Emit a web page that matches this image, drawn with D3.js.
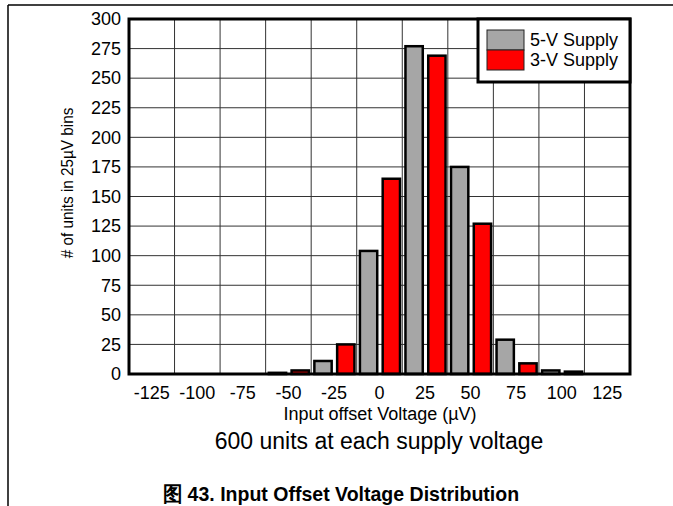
<!DOCTYPE html>
<html><head><meta charset="utf-8">
<script src="https://cdn.jsdelivr.net/npm/d3@7"></script>
<style>
body{margin:0;background:#fff;}
text{font-family:"Liberation Sans",Arial,sans-serif;fill:#000;}
</style></head>
<body><svg id="c" width="673" height="506"></svg>
<script>
const categories = [-125,-100,-75,-50,-25,0,25,50,75,100,125];
const supply5V = [0,0,0,1,11,104,277,175,29,3,0];
const supply3V = [0,0,0,3,25,165,269,127,9,2,0];
const yTicks = [0,25,50,75,100,125,150,175,200,225,250,275,300];
const seriesNames = ["5-V Supply","3-V Supply"];
const seriesColors = ["#a6a6a6","#ff0000"];

const svg = d3.select("#c");
const W=673,H=506;
const m={l:129,r:630,t:19,b:374};

// outer frame
svg.append("line").attr("x1",8).attr("x2",W).attr("y1",5).attr("y2",5).attr("stroke","#000").attr("stroke-width",1.5);
svg.append("line").attr("x1",8).attr("x2",8).attr("y1",5).attr("y2",H).attr("stroke","#000").attr("stroke-width",1.5);

const x = d3.scaleBand().domain(categories).range([m.l,m.r]);
const y = d3.scaleLinear().domain([0,300]).range([m.b,m.t]);
const bw = x.bandwidth();

// grid
const g = svg.append("g");
g.selectAll(".hg").data(yTicks.slice(1,-1)).join("line")
 .attr("x1",m.l).attr("x2",m.r).attr("y1",d=>y(d)).attr("y2",d=>y(d))
 .attr("stroke","#333").attr("stroke-width",1);
g.selectAll(".vg").data(categories.slice(1)).join("line")
 .attr("x1",d=>x(d)).attr("x2",d=>x(d)).attr("y1",m.t).attr("y2",m.b)
 .attr("stroke","#333").attr("stroke-width",1);

// bars
const series=[supply5V,supply3V];
series.forEach((vals,si)=>{
  svg.append("g").selectAll("rect").data(categories.map((c,i)=>({c,v:vals[i]})).filter(d=>d.v>0)).join("rect")
   .attr("x",d=>x(d.c)+bw*(si===0?0.07:0.57))
   .attr("width",bw*0.38)
   .attr("y",d=>y(d.v))
   .attr("height",d=>y(0)-y(d.v))
   .attr("fill",seriesColors[si]).attr("stroke","#000").attr("stroke-width",2.5);
});

// plot border
svg.append("rect").attr("x",m.l).attr("y",m.t).attr("width",m.r-m.l).attr("height",m.b-m.t)
 .attr("fill","none").attr("stroke","#000").attr("stroke-width",3);

// axes labels
const yAxis = d3.axisLeft(y).tickValues(yTicks).tickSize(0).tickPadding(8);
const ya = svg.append("g").attr("transform",`translate(${m.l},0)`).call(yAxis);
ya.select(".domain").remove();
ya.selectAll("text").attr("font-size",18).attr("font-family","Liberation Sans, Arial, sans-serif").attr("fill","#000");

const xAxis = d3.axisBottom(x).tickSize(0).tickPadding(12);
const xa = svg.append("g").attr("transform",`translate(0,${m.b})`).call(xAxis);
xa.select(".domain").remove();
xa.selectAll("text").attr("font-size",18).attr("font-family","Liberation Sans, Arial, sans-serif").attr("fill","#000");

svg.append("text").attr("transform",`translate(73,183) rotate(-90) scale(0.9,1)`)
 .attr("text-anchor","middle").attr("font-size",17).text("# of units in 25µV bins");
svg.append("text").attr("x",380).attr("y",420).attr("text-anchor","middle").attr("font-size",18).text("Input offset Voltage (µV)");
svg.append("text").attr("x",379).attr("y",449).attr("text-anchor","middle").attr("font-size",23).text("600 units at each supply voltage");
svg.append("text").attr("transform","translate(341,501) scale(0.93,1)").attr("text-anchor","middle").attr("font-size",21).attr("font-weight","bold").text("图 43. Input Offset Voltage Distribution");

// legend
const lg = svg.append("g");
lg.append("rect").attr("x",478).attr("y",m.t).attr("width",m.r-478).attr("height",63).attr("fill","#fff").attr("stroke","#000").attr("stroke-width",3);
seriesNames.forEach((n,i)=>{
  lg.append("rect").attr("x",487).attr("y",30+i*20).attr("width",37).attr("height",20).attr("fill",seriesColors[i]).attr("stroke","#222").attr("stroke-width",1);
  lg.append("text").attr("x",530).attr("y",46+i*20).attr("font-size",18).text(n);
});
</script></body></html>
